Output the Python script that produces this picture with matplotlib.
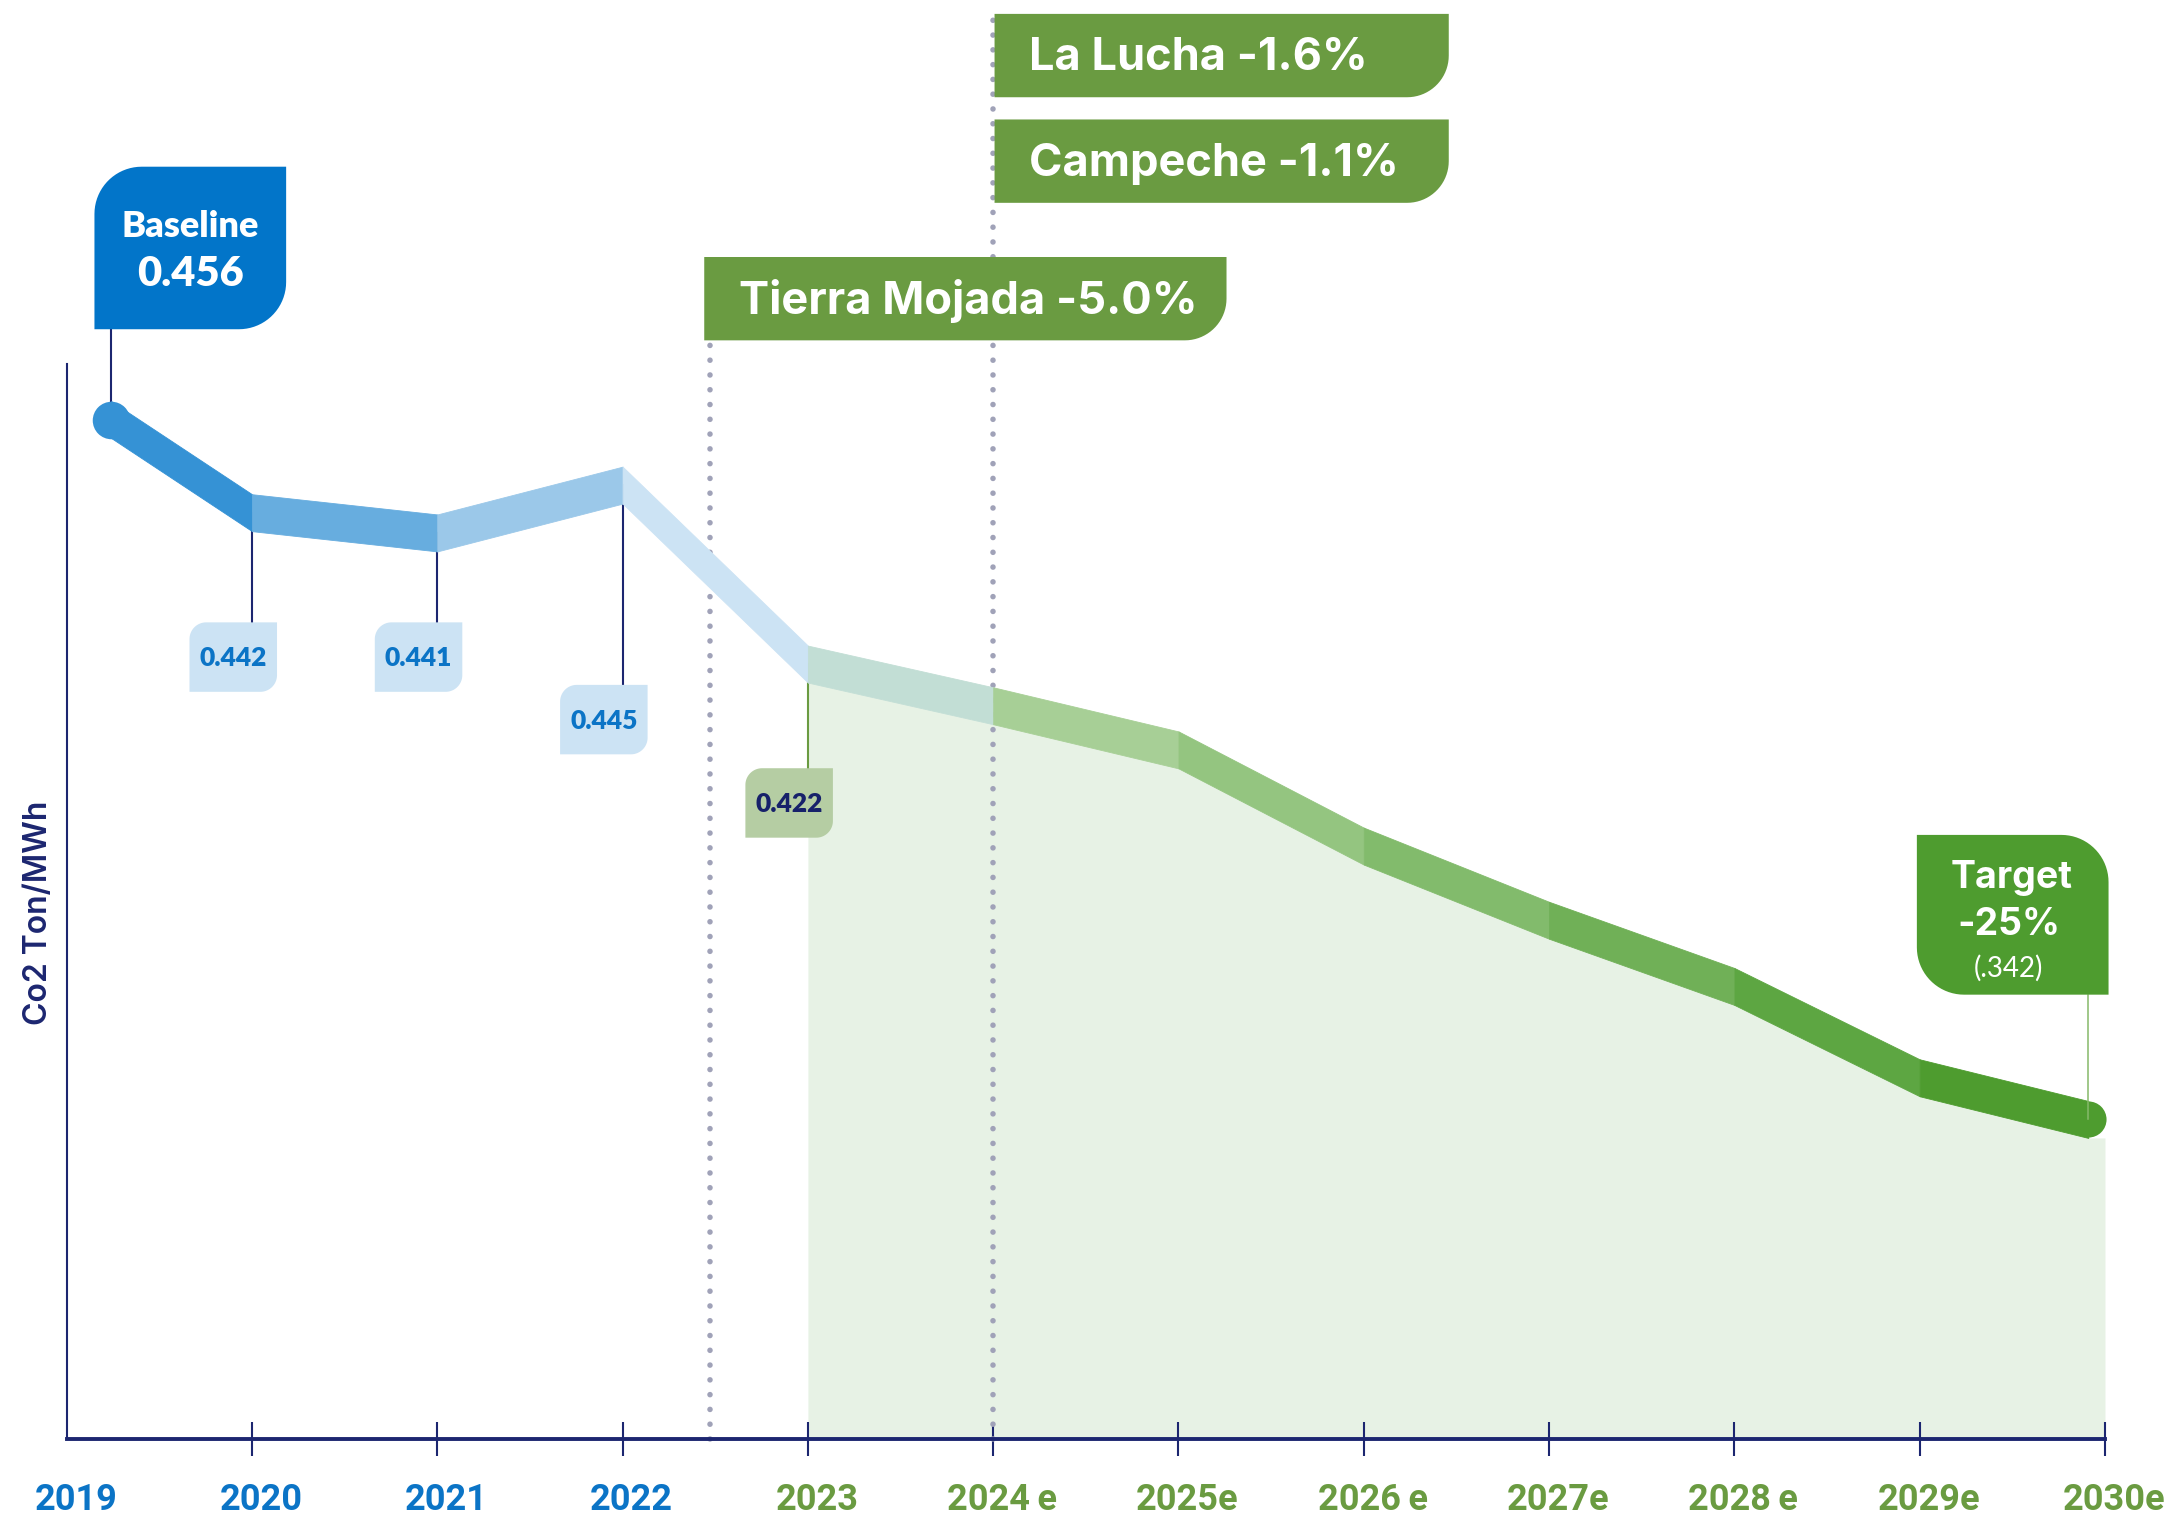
import numpy as np
import matplotlib
matplotlib.use("Agg")
import matplotlib.pyplot as plt
from matplotlib.patches import Polygon
from matplotlib.transforms import ScaledTranslation

# ---- data ----
years = [2019, 2020, 2021, 2022, 2023, 2024, 2025, 2026, 2027, 2028, 2029, 2030]
year_labels = ["2019", "2020", "2021", "2022", "2023", "2024\u2009e", "2025e", "2026\u2009e",
               "2027e", "2028\u2009e", "2029e", "2030e"]
co2 = [0.456, 0.4408, 0.4375, 0.4453, 0.4161, 0.4093, 0.4021, 0.3864,
       0.3743, 0.3635, 0.3486, 0.3418]
value_labels = ["0.442", "0.441", "0.445", "0.422"]
projects = ["La Lucha -1.6%", "Campeche -1.1%", "Tierra Mojada -5.0%"]
project_year = [2024.0, 2024.0, 2022.47]
baseline_label = ("Baseline", "0.456")
target_label = ("Target", "-25%", "(.342)")

seg_colors = ["#3592D5", "#67ADDF", "#9BC8E9", "#CCE3F4", "#C2DED5", "#A7CF96",
              "#94C580", "#82BB6C", "#70B057", "#5DA642", "#4E9C2F"]
NAVY = "#1C2670"
BLUE = "#0B74C6"
GREEN = "#6A9B41"
FILL = "#E7F2E5"
DOTS = "#A0A2B8"

# ---- geometry: main axes fills the figure; overlay uses reference pixels ----
REF_W, REF_H = 1568, 1092
X0, X1 = 2018.640, 2030.394
Y0, Y1 = 0.27694, 0.52445
Y_AXIS, Y_TOP = 0.2896, 0.4651
THICK = 0.00603


def to_data(xp, yp):
    return X0 + xp / REF_W * (X1 - X0), Y1 - yp / REF_H * (Y1 - Y0)


def to_ref(x, v):
    return (x - X0) / (X1 - X0) * REF_W, (Y1 - v) / (Y1 - Y0) * REF_H


def rbox(ax, x0, y0, x1, y1, r, corners, color, z=5):
    pts = []
    spec = [("tl", (x0 + r, y0 + r), 180, (x0, y0)),
            ("tr", (x1 - r, y0 + r), 270, (x1, y0)),
            ("br", (x1 - r, y1 - r), 0, (x1, y1)),
            ("bl", (x0 + r, y1 - r), 90, (x0, y1))]
    for name, (cx, cy), a0, corner in spec:
        if name in corners:
            t = np.radians(np.linspace(a0, a0 + 90, 20))
            pts += list(zip(cx + r * np.cos(t), cy + r * np.sin(t)))
        else:
            pts.append(corner)
    ax.add_patch(Polygon(pts, closed=True, fc=color, ec="none", zorder=z))


fig = plt.figure(figsize=(21.78, 15.17), dpi=100)
ax = fig.add_axes([0, 0, 1, 1])
ax.set_xlim(X0, X1)
ax.set_ylim(Y0, Y1)

x_plot = np.array(years, dtype=float)
x_plot[0] += 0.24
x_plot[-1] -= 0.09
v = np.array(co2)

# shaded forecast area
xf = np.append(x_plot[4:], 2030)
top = np.append(v[4:], v[-1]) - THICK / 2
ax.fill_between(xf, top, Y_AXIS, color=FILL, lw=0, zorder=1)

# dotted project lines
for px, ytop in [(project_year[2], 245), (project_year[0], 10)]:
    ax.plot([px, px], [Y_AXIS, to_data(0, ytop)[1]], color=DOTS, lw=4,
            linestyle=(0, (0.01, 2.65)), dash_capstyle="round", zorder=2)

# thick segmented line
for i in range(len(x_plot) - 1):
    ax.fill_between(x_plot[i:i + 2], v[i:i + 2] - THICK / 2, v[i:i + 2] + THICK / 2,
                    color=seg_colors[i], lw=0.6, ec=seg_colors[i], zorder=3)
ax.scatter([x_plot[0]], [v[0]], s=27 ** 2, color=seg_colors[0], lw=0, zorder=3)
ax.scatter([x_plot[-1]], [v[-1]], s=26 ** 2, color=seg_colors[-1], lw=0, zorder=3)

# leader lines
ax.plot([x_plot[0]] * 2, [v[0], to_data(0, 237)[1]], color=NAVY, lw=1.5, zorder=2.5)
box_tops = [448, 448, 493, 553]
for i, bt in zip(range(1, 5), box_tops):
    c = GREEN if i == 4 else NAVY
    ax.plot([x_plot[i]] * 2, [v[i], to_data(0, bt)[1]], color=c, lw=1.5, zorder=2.5)
ax.plot([x_plot[-1]] * 2, [v[-1], to_data(0, 716)[1]], color="#86B96A", lw=1.1, zorder=4)

# axes styling
for s in ["top", "right"]:
    ax.spines[s].set_visible(False)
ax.spines["bottom"].set_position(("data", Y_AXIS))
ax.spines["bottom"].set_bounds(2019, 2030)
ax.spines["bottom"].set_linewidth(2.8)
ax.spines["bottom"].set_color(NAVY)
ax.spines["left"].set_position(("data", 2019))
ax.spines["left"].set_bounds(Y_AXIS, Y_TOP)
ax.spines["left"].set_linewidth(1.5)
ax.spines["left"].set_color(NAVY)
ax.set_yticks([])
ax.set_xticks(years, year_labels)
ax.tick_params(axis="x", direction="inout", length=24, width=1.5, color=NAVY, pad=19)
ax.xaxis.get_major_ticks()[0].tick1line.set_visible(False)
for lab, yr in zip(ax.get_xticklabels(), years):
    lab.set_fontfamily(["Roboto", "DejaVu Sans"])
    lab.set_fontweight("bold")
    lab.set_fontsize(26)
    lab.set_color(BLUE if yr <= 2022 else GREEN)
    lab.set_transform(lab.get_transform() + ScaledTranslation(0.09, 0, fig.dpi_scale_trans))

# ---- overlay in reference pixel space ----
ov = fig.add_axes([0, 0, 1, 1])
ov.set_xlim(0, REF_W)
ov.set_ylim(REF_H, 0)
ov.axis("off")
ov.patch.set_alpha(0)

ov.text(27.6, 657, "Co2 Ton/MWh", rotation=90, ha="center", va="center",
        fontsize=23, color=NAVY, fontweight="semibold", family=["Inter", "DejaVu Sans"])

# project banners
banners = [(716, 10, 1043, 70), (716, 86, 1043, 146), (507, 185, 883, 245)]
for name, (bx0, by0, bx1, by1) in zip(projects, banners):
    rbox(ov, bx0, by0, bx1, by1, 30, {"br"}, GREEN)
    ov.text(bx0 + 25, (by0 + by1) / 2 + 2, name, ha="left", va="center", color="white",
            fontsize=32.5, fontweight="bold", family=["Inter", "DejaVu Sans"], zorder=6)

# baseline box
rbox(ov, 68, 120, 206, 237, 34, {"tl", "br"}, "#0275C9")
ov.text(137, 163, baseline_label[0], ha="center", va="center", color="white",
        fontsize=26, fontweight="heavy", family=["Lato", "DejaVu Sans"], zorder=6)
ov.text(137, 197, baseline_label[1], ha="center", va="center", color="white",
        fontsize=30, fontweight="heavy", family=["Lato", "DejaVu Sans"], zorder=6)

# small value boxes
for i, (txt, bt) in enumerate(zip(value_labels, box_tops), start=1):
    xr = to_ref(x_plot[i], v[i])[0]
    fc = "#B5CDA3" if i == 4 else "#CCE3F4"
    tc = "#17216A" if i == 4 else BLUE
    rbox(ov, xr - 45, bt, xr + 18, bt + 50, 12, {"tl", "br"}, fc)
    ov.text(xr - 13.5, bt + 26, txt, ha="center", va="center", color=tc,
            fontsize=19, fontweight="heavy", family=["Lato", "DejaVu Sans"], zorder=6)

# target box
rbox(ov, 1380, 601, 1518, 716, 34, {"tr", "bl"}, "#4E9C2F")
ov.text(1448, 632, target_label[0], ha="center", va="center", color="white",
        fontsize=27, fontweight="bold", family=["Inter", "DejaVu Sans"], zorder=6)
ov.text(1446, 666, target_label[1], ha="center", va="center", color="white",
        fontsize=27, fontweight="bold", family=["Inter", "DejaVu Sans"], zorder=6)
ov.text(1446, 697, target_label[2], ha="center", va="center", color="white",
        fontsize=20, fontweight="normal", family=["Lato", "DejaVu Sans"], zorder=6)

fig.savefig("out.png", dpi=100, facecolor="white")
print("saved out.png")
